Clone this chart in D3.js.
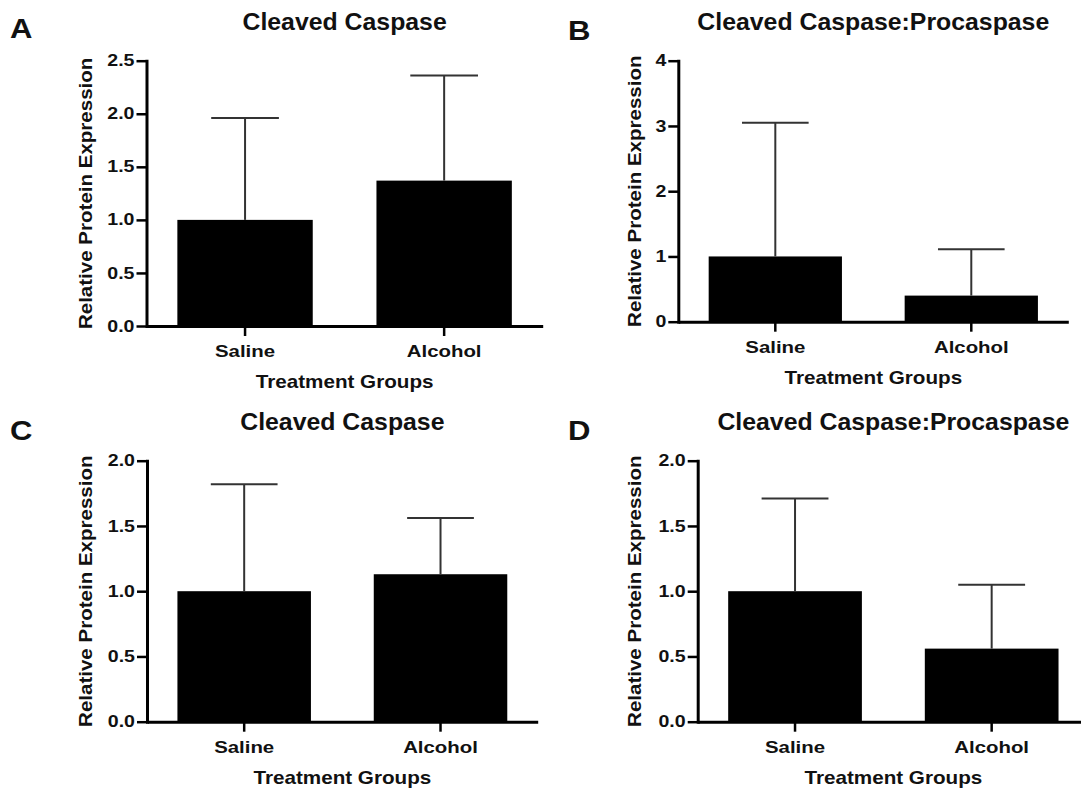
<!DOCTYPE html>
<html>
<head>
<meta charset="utf-8">
<script src="https://cdn.jsdelivr.net/npm/d3@7"></script>
<style>
  html, body { margin: 0; padding: 0; background: #fff; }
  svg { display: block; }
  text { font-family: "Liberation Sans", Arial, Helvetica, sans-serif; font-weight: bold; fill: #111; }
</style>
</head>
<body>
<script>
// ---- data ----
const categories = ["Saline", "Alcohol"];
const panelLetters = ["A", "B", "C", "D"];
const panelTitles = ["Cleaved Caspase", "Cleaved Caspase:Procaspase", "Cleaved Caspase", "Cleaved Caspase:Procaspase"];
const yAxisTitle = "Relative Protein Expression";
const xAxisTitle = "Treatment Groups";

const meansA = [1.0, 1.37];
const errorsA = [0.96, 0.99];
const meansB = [1.0, 0.40];
const errorsB = [2.05, 0.71];
const meansC = [1.0, 1.13];
const errorsC = [0.82, 0.43];
const meansD = [1.0, 0.56];
const errorsD = [0.71, 0.49];

const ticksA = [0, 0.5, 1.0, 1.5, 2.0, 2.5];
const ticksB = [0, 1, 2, 3, 4];
const ticksC = [0, 0.5, 1.0, 1.5, 2.0];
const ticksD = [0, 0.5, 1.0, 1.5, 2.0];

// ---- layout ----
const W = 1081, H = 788;
const svg = d3.select("body").append("svg").attr("width", W).attr("height", H);

const panels = [
  { letter: panelLetters[0], title: panelTitles[0], means: meansA, errs: errorsA, ticks: ticksA, fmt: d3.format(".1f"),
    x0: 146.5, x1: 542.7, yb: 326, yt: 60.7, ymax: 2.5, letterX: 10, letterY: 38, titleY: 30, ylabX: 92 },
  { letter: panelLetters[1], title: panelTitles[1], means: meansB, errs: errorsB, ticks: ticksB, fmt: d3.format("d"),
    x0: 678.3, x1: 1068.3, yb: 321.7, yt: 60.7, ymax: 4, letterX: 568, letterY: 40, titleY: 30, ylabX: 641 },
  { letter: panelLetters[2], title: panelTitles[2], means: meansC, errs: errorsC, ticks: ticksC, fmt: d3.format(".1f"),
    x0: 147, x1: 537.7, yb: 721.7, yt: 460.7, ymax: 2, letterX: 10, letterY: 440, titleY: 430, ylabX: 92 },
  { letter: panelLetters[3], title: panelTitles[3], means: meansD, errs: errorsD, ticks: ticksD, fmt: d3.format(".1f"),
    x0: 697.7, x1: 1089, yb: 721.7, yt: 460.7, ymax: 2, letterX: 568, letterY: 440, titleY: 430, ylabX: 641 }
];

const SX = 1.2; // horizontal glyph widening of the original typeface

function drawPanel(p) {
  const x = d3.scaleBand().domain(categories).range([p.x0, p.x1]).paddingInner(0.32).paddingOuter(0.155);
  const y = d3.scaleLinear().domain([0, p.ymax]).range([p.yb, p.yt]);
  const g = svg.append("g");
  const data = categories.map((c, i) => ({ c, m: p.means[i], e: p.errs[i] }));

  // bars
  g.selectAll("rect.bar").data(data).join("rect")
    .attr("class", "bar")
    .attr("x", d => x(d.c)).attr("y", d => y(d.m))
    .attr("width", x.bandwidth()).attr("height", d => y(0) - y(d.m))
    .attr("fill", "#000");

  // error bars (upper only)
  const eg = g.selectAll("g.err").data(data).join("g").attr("class", "err")
    .attr("stroke", "#333").attr("stroke-width", 2);
  eg.append("line")
    .attr("x1", d => x(d.c) + x.bandwidth() / 2).attr("x2", d => x(d.c) + x.bandwidth() / 2)
    .attr("y1", d => y(d.m)).attr("y2", d => y(d.m + d.e));
  eg.append("line")
    .attr("x1", d => x(d.c) + x.bandwidth() / 4).attr("x2", d => x(d.c) + x.bandwidth() * 3 / 4)
    .attr("y1", d => y(d.m + d.e)).attr("y2", d => y(d.m + d.e));

  // y axis
  const ya = g.append("g").attr("transform", `translate(${p.x0},0)`)
    .call(d3.axisLeft(y).tickValues(p.ticks).tickFormat(p.fmt).tickSize(10).tickSizeOuter(0).tickPadding(2));
  ya.select(".domain").attr("stroke", "#000").attr("stroke-width", 3).attr("stroke-linecap", "square");
  ya.selectAll(".tick line").attr("stroke", "#000").attr("stroke-width", 2.5);
  ya.selectAll(".tick text")
    .attr("x", 0).attr("transform", `translate(-12,0) scale(1.24,1)`)
    .style("font-size", "15.8px").attr("fill", "#111");

  // x axis
  const xa = g.append("g").attr("transform", `translate(0,${p.yb})`)
    .call(d3.axisBottom(x).tickSize(10).tickSizeOuter(0).tickPadding(0));
  xa.select(".domain").attr("stroke", "#000").attr("stroke-width", 3);
  xa.selectAll(".tick line").attr("stroke", "#000").attr("stroke-width", 2.5);
  xa.selectAll(".tick text")
    .attr("y", 0).attr("dy", null)
    .attr("transform", `translate(0,31) scale(${SX},1)`)
    .style("font-size", "17px").attr("fill", "#111");

  const cx = (p.x0 + p.x1) / 2;
  // title
  svg.append("text")
    .attr("transform", `translate(${cx},${p.titleY}) scale(1.08,1)`)
    .attr("text-anchor", "middle").style("font-size", "23px").text(p.title);
  // panel letter
  svg.append("text")
    .attr("transform", `translate(${p.letterX},${p.letterY}) scale(1.15,1)`)
    .style("font-size", "27px").text(p.letter);
  // x axis title
  svg.append("text")
    .attr("transform", `translate(${cx},${p.yb + 62}) scale(1.18,1)`)
    .attr("text-anchor", "middle").style("font-size", "17.5px").text(xAxisTitle);
  // y axis title
  svg.append("text")
    .attr("transform", `translate(${p.ylabX},${(p.yb + p.yt) / 2}) rotate(-90) scale(1.11,1)`)
    .attr("text-anchor", "middle").style("font-size", "18.5px").text(yAxisTitle);
}

panels.forEach(drawPanel);
</script>
</body>
</html>
